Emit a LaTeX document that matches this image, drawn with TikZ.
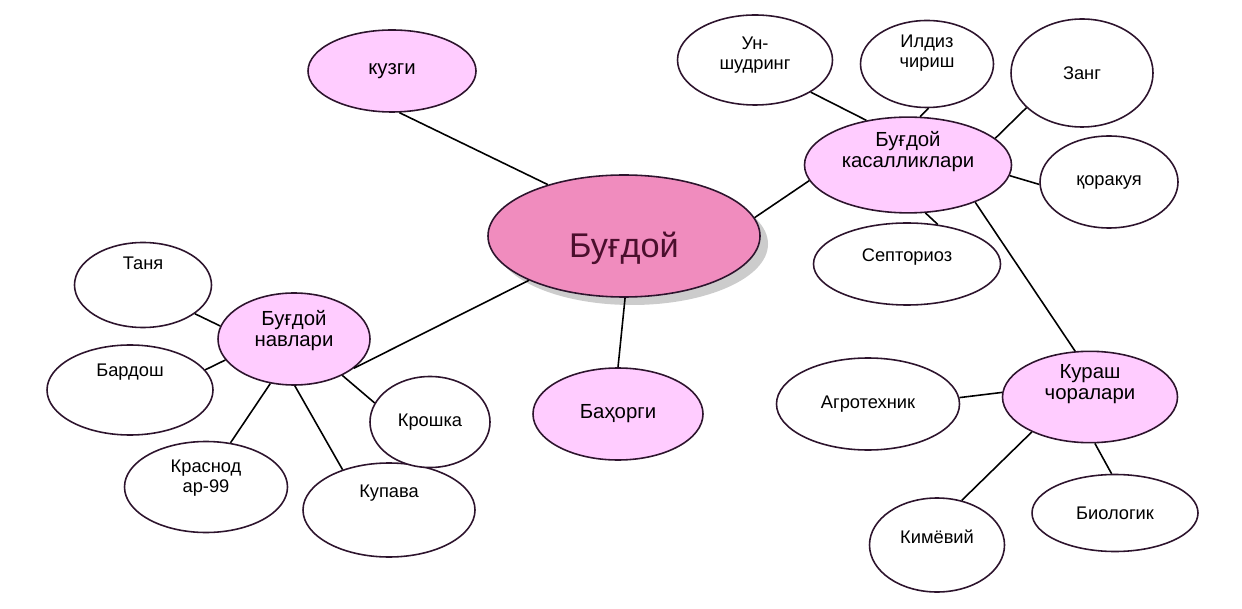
\documentclass[tikz,border=0pt]{standalone}
\usepackage{fontspec}
\setmainfont{Liberation Sans}
\usetikzlibrary{shapes.geometric,shadows}

\definecolor{pinkfill}{RGB}{255,204,255}
\definecolor{rosefill}{RGB}{240,140,190}
\definecolor{rimline}{RGB}{45,20,45}
\definecolor{rootink}{RGB}{75,15,45}

\tikzset{
    wh/.style 2 args={minimum width=#1*0.2mm, minimum height=#2*0.2mm},
    lift/.style={text depth=#1*0.4mm+2pt},
}

\begin{document}
\begin{tikzpicture}[x=0.2mm,y=-0.2mm]
        \tikzstyle{every path}=[line width=0.9pt]

        \tikzstyle{oval}=[ellipse,draw=rimline,fill=white,align=center,inner sep=0pt,font=\fontsize{10.4}{11.2}\selectfont]
        \tikzstyle{topic}=[oval,fill=pinkfill,font=\fontsize{11.6}{12}\selectfont]
        \tikzstyle{root}=[oval,fill=rosefill,text=rootink,font=\fontsize{19.5}{22}\selectfont,
            drop shadow={shadow xshift=1.6mm,shadow yshift=-1.6mm,fill=black!40,opacity=0.5}]

        \useasboundingbox (0,0) rectangle (1242,609);

        % centre
        \node [root,wh={272}{122},text height=28pt] (bugdoy) at (624,236) {Буғдой};

        % main branches
        \node [topic,wh={168}{82}] (kuzgi) at (392,71) {кузги};
        \node [topic,wh={170}{92}] (bahorgi) at (618,414) {Баҳорги};
        \node [topic,wh={207}{95},lift=14] (kasal) at (908,165) {Буғдой\\касалликлари};
        \node [topic,wh={152}{92},lift=9] (navlar) at (294,339) {Буғдой\\навлари};
        \node [topic,wh={175}{91},lift=13] (kurash) at (1090,397) {Кураш\\чоралари};

        % diseases
        \node [oval,wh={155}{90},lift=5] (unshud) at (755,60) {Ун-\\шудринг};
        \node [oval,wh={133}{87},lift=11] (ildiz) at (927,64) {Илдиз\\чириш};
        \node [oval,wh={142}{108}] (zang) at (1082,73) {Занг};
        \node [oval,wh={138}{92}] (qorakuya) at (1109,182) {қоракуя};
        \node [oval,wh={187}{82},lift=7] (septor) at (907,264) {Септориоз};

        % varieties
        \node [oval,wh={137}{85},lift=20] (tanya) at (143,285) {Таня};
        \node [oval,wh={166}{90},lift=18] (bardosh) at (130,390) {Бардош};
        \node [oval,wh={163}{91},lift=9] (krasnod) at (206,487) {Краснод\\ар-99};
        \node [oval,wh={172}{94},lift=17] (kupava) at (389,510) {Купава};
        \node [oval,wh={120}{91}] (kroshka) at (430,422) {Крошка};

        % control measures
        \node [oval,wh={183}{92}] (agrotex) at (868,404) {Агротехник};
        \node [oval,wh={135}{94},lift=7] (kimyo) at (937,545) {Кимёвий};
        \node [oval,wh={166}{77}] (biolog) at (1115,513) {Биологик};

        \draw (bugdoy.146) -- (kuzgi.-80);       % root->kuzgi
        \draw (bugdoy.205) -- (navlar.-26);      % root->navlar
        \draw (bugdoy.-89) -- (bahorgi.90);      % root->bahorgi
        \draw (bugdoy.8) -- (kasal.189);         % root->kasal

        \draw (kasal.133) -- (unshud.-30);       % kasal->unshud
        \draw (kasal.76) -- (ildiz.-88);         % kasal->ildiz
        \draw (kasal.17) -- (zang.212);          % kasal->zang
        \draw (kasal.-6) -- (qorakuya.182);      % kasal->qorakuya
        \draw (kasal.-70) -- (septor.52);        % kasal->septor
        \draw (kasal.-29) -- (kurash.108);       % kasal->kurash

        \draw (navlar.170) -- (tanya.-29);       % navlar->tanya
        \draw (navlar.197) -- (bardosh.15);      % navlar->bardosh
        \draw (navlar.242) -- (krasnod.61);      % navlar->krasnod
        \draw (navlar.-89) -- (kupava.139);      % navlar->kupava
        \draw (navlar.-37) -- (kroshka.161);     % navlar->kroshka

        \draw (kurash.177) -- (agrotex.4);       % kurash->agrotex
        \draw (kurash.211) -- (kimyo.61);        % kurash->kimyo
        \draw (kurash.-84) -- (biolog.95);       % kurash->biolog
\end{tikzpicture}
\end{document}
